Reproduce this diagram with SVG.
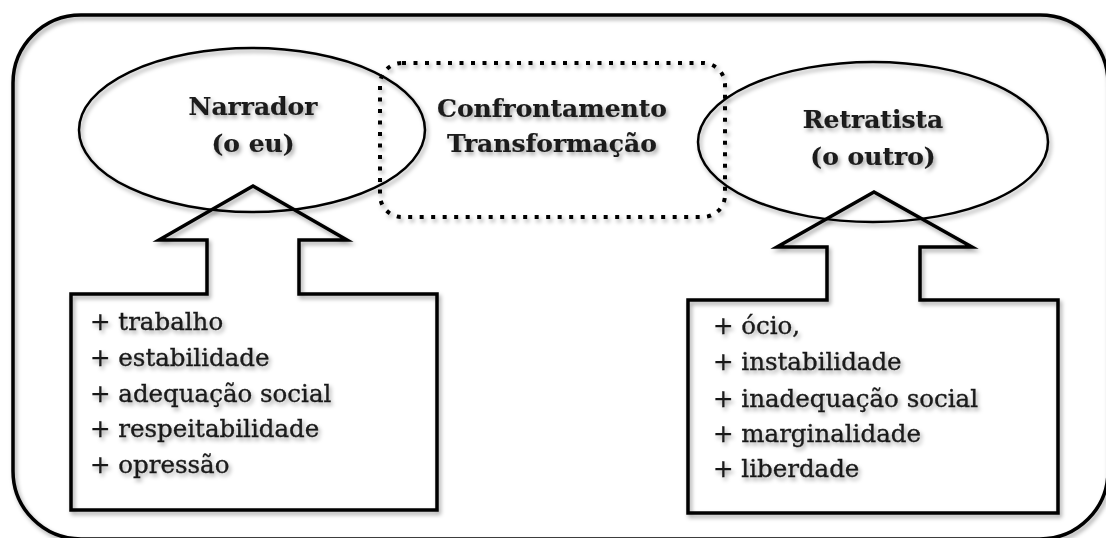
<svg xmlns="http://www.w3.org/2000/svg" width="1106" height="538" viewBox="0 0 1106 538">
<defs>
<filter id="sh" x="-10%" y="-10%" width="120%" height="130%">
<feDropShadow dx="2" dy="3" stdDeviation="2" flood-color="#000" flood-opacity="0.35"/>
</filter>
</defs>
<style>
.ln{fill:none;stroke:#000;stroke-linejoin:miter}
.t{font-family:"DejaVu Serif","Liberation Serif",serif;font-size:24.5px;fill:#1a1a1a;stroke:#1a1a1a;stroke-width:0.35}
.b{font-weight:bold;text-anchor:middle;font-size:25px;stroke-width:0.2}
</style>
<rect width="1106" height="538" fill="#fff"/>
<g id="frame" filter="url(#sh)">
<rect class="ln" x="13" y="15" width="1095" height="524" rx="68" ry="68" stroke-width="3.5"/>
</g>
<g id="connectors" filter="url(#sh)">
<path id="arrow-left" class="ln" stroke-width="3.5" d="M71,294 L207,294 L207,240 L159,240 L253,186 L347,240 L299,240 L299,294 L437,294 L437,510 L71,510 Z"/>
<path id="arrow-right" class="ln" stroke-width="3.5" d="M688,300 L827,300 L827,247 L777,247 L874,192 L972,247 L920,247 L920,300 L1058,300 L1058,513 L688,513 Z"/>
</g>
<g id="narrador" filter="url(#sh)">
<ellipse class="ln" cx="252" cy="130" rx="173" ry="82" stroke-width="2.5"/>
<text class="t b" x="253" y="115">Narrador</text>
<text class="t b" x="253" y="152">(o eu)</text>
</g>
<g id="confronto" filter="url(#sh)">
<rect class="ln" x="380" y="63" width="345" height="154" rx="22" ry="22" stroke-width="4" stroke-dasharray="4 7.5"/>
<text class="t b" x="552" y="117">Confrontamento</text>
<text class="t b" x="552" y="152">Transformação</text>
</g>
<g id="retratista" filter="url(#sh)">
<ellipse class="ln" cx="873" cy="142" rx="175" ry="80" stroke-width="2.5"/>
<text class="t b" x="873" y="128">Retratista</text>
<text class="t b" x="873" y="165">(o outro)</text>
</g>
<g id="lista-narrador" filter="url(#sh)">
<text class="t" x="90" y="330">+ trabalho</text>
<text class="t" x="90" y="366">+ estabilidade</text>
<text class="t" x="90" y="402">+ adequação social</text>
<text class="t" x="90" y="437">+ respeitabilidade</text>
<text class="t" x="90" y="473">+ opressão</text>
</g>
<g id="lista-retratista" filter="url(#sh)">
<text class="t" x="713" y="334">+ ócio,</text>
<text class="t" x="713" y="370">+ instabilidade</text>
<text class="t" x="713" y="407">+ inadequação social</text>
<text class="t" x="713" y="442">+ marginalidade</text>
<text class="t" x="713" y="477">+ liberdade</text>
</g>
</svg>
